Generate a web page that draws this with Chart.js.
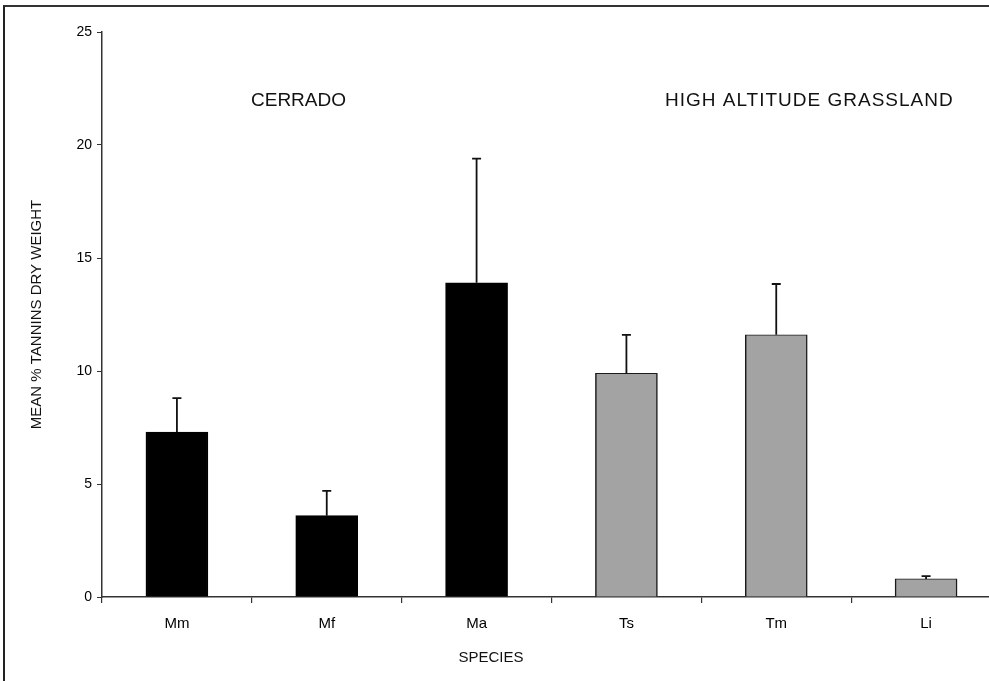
<!DOCTYPE html>
<html>
<head>
<meta charset="utf-8">
<script src="https://cdn.jsdelivr.net/npm/chart.js@4.4.1/dist/chart.umd.min.js"></script>
<style>
  html, body { margin: 0; padding: 0; background: #fff; overflow: hidden; width: 989px; height: 681px; }
  #wrap { position: relative; width: 989px; height: 681px; overflow: hidden; }
  #frame { position: absolute; left: 3px; top: 5px; width: 1100px; height: 800px; border-left: 2px solid #222; border-top: 2px solid #333; box-sizing: border-box; }
  canvas { position: absolute; left: 0; top: 0; }
</style>
</head>
<body>
<div id="wrap">
  <div id="frame"></div>
  <canvas id="c" width="1004" height="681"></canvas>
</div>
<script>
const categories = ['Mm', 'Mf', 'Ma', 'Ts', 'Tm', 'Li'];
const habitat = ['CERRADO', 'CERRADO', 'CERRADO', 'HIGH ALTITUDE GRASSLAND', 'HIGH ALTITUDE GRASSLAND', 'HIGH ALTITUDE GRASSLAND'];
const meanTannins = [7.3, 3.6, 13.9, 9.9, 11.6, 0.8];
const errorUp = [1.5, 1.1, 5.5, 1.7, 2.25, 0.12];
const yTicks = [0, 5, 10, 15, 20, 25];

const FONT = "'Liberation Sans', Arial, sans-serif";
const habitatColor = { 'CERRADO': '#000000', 'HIGH ALTITUDE GRASSLAND': '#a3a3a3' };
const habitatBorder = { 'CERRADO': '#000000', 'HIGH ALTITUDE GRASSLAND': '#1a1a1a' };

const errorBarPlugin = {
  id: 'errorBars',
  afterDatasetsDraw(chart) {
    const ctx = chart.ctx;
    const meta = chart.getDatasetMeta(0);
    const y = chart.scales.y;
    ctx.save();
    ctx.strokeStyle = '#111';
    ctx.lineWidth = 1.8;
    meta.data.forEach((bar, i) => {
      const top = y.getPixelForValue(meanTannins[i] + errorUp[i]);
      const base = y.getPixelForValue(meanTannins[i]);
      ctx.beginPath();
      ctx.moveTo(bar.x, base);
      ctx.lineTo(bar.x, top);
      ctx.moveTo(bar.x - 4.5, top);
      ctx.lineTo(bar.x + 4.5, top);
      ctx.stroke();
    });
    ctx.restore();
  }
};

const textPlugin = {
  id: 'texts',
  afterDraw(chart) {
    const ctx = chart.ctx;
    ctx.save();
    ctx.fillStyle = '#111';
    ctx.textBaseline = 'middle';
    ctx.font = '19px ' + FONT;
    ctx.textAlign = 'left';
    ctx.fillText('CERRADO', 251, 101);
    ctx.letterSpacing = '1px';
    ctx.fillText('HIGH ALTITUDE GRASSLAND', 665, 101);
    ctx.letterSpacing = '0px';
    ctx.font = '15px ' + FONT;
    ctx.textAlign = 'center';
    ctx.fillText('SPECIES', 491, 658);
    ctx.restore();
  }
};

new Chart(document.getElementById('c'), {
  type: 'bar',
  data: {
    labels: categories,
    datasets: [{
      data: meanTannins,
      backgroundColor: habitat.map(h => habitatColor[h]),
      borderColor: habitat.map(h => habitatBorder[h]),
      borderWidth: { top: 1, left: 1.5, right: 1.5, bottom: 0 },
      barThickness: 62,
      borderSkipped: 'bottom'
    }]
  },
  options: {
    responsive: false,
    animation: false,
    devicePixelRatio: 1,
    layout: { padding: { left: 0, right: 3, top: 32, bottom: 0 } },
    plugins: { legend: { display: false }, tooltip: { enabled: false } },
    scales: {
      x: {
        offset: true,
        grid: { display: true, offset: true, drawOnChartArea: false, tickLength: 6, color: '#333', lineWidth: 1.2 },
        border: { display: true, color: '#333', width: 1.5 },
        ticks: { color: '#000', font: { family: FONT, size: 15 }, padding: 12, maxRotation: 0 },
        afterFit(scale) { scale.height = 84; }
      },
      y: {
        min: 0, max: 25,
        afterBuildTicks(scale) { scale.ticks = yTicks.map(v => ({ value: v })); },
        grid: { display: true, drawOnChartArea: false, tickLength: 5, color: '#333', lineWidth: 1 },
        border: { display: true, color: '#333', width: 1.5 },
        ticks: { color: '#000', font: { family: FONT, size: 14 }, padding: 5 },
        title: { display: true, text: 'MEAN % TANNINS DRY WEIGHT', color: '#111', font: { family: FONT, size: 15 }, padding: { top: 28, bottom: 0 } },
        afterFit(scale) { scale.width = 102; }
      }
    }
  },
  plugins: [errorBarPlugin, textPlugin]
});
</script>
</body>
</html>
